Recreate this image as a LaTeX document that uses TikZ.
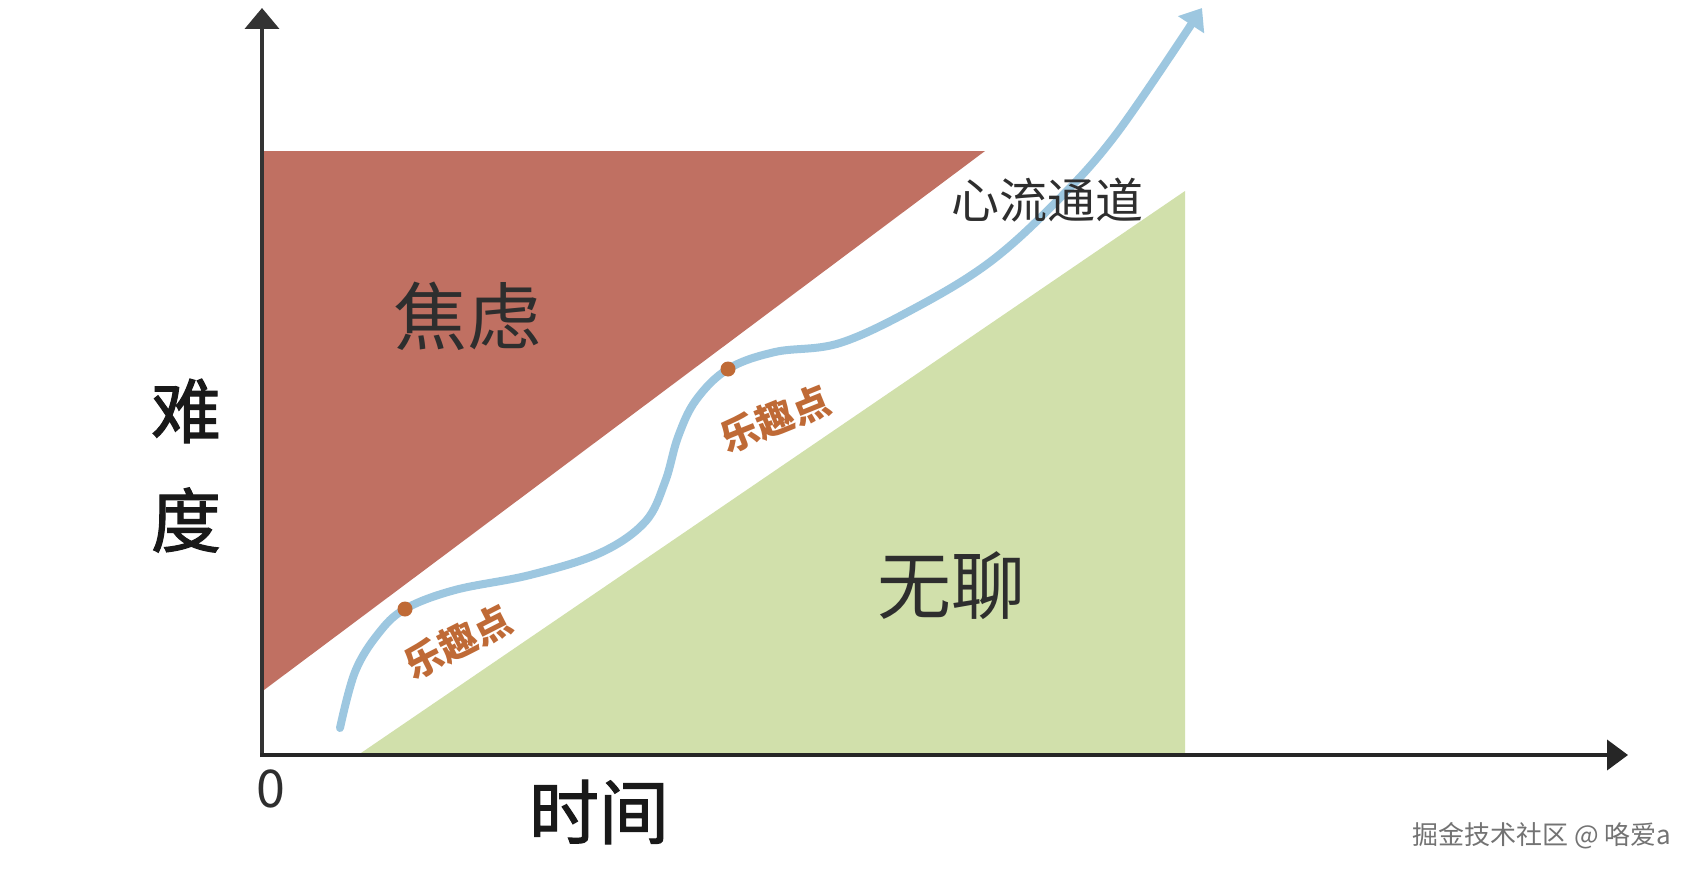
\documentclass[tikz,border=0pt]{standalone}
\usepackage{fontspec}
\newfontfamily\cjk{Noto Sans CJK SC}
\newfontfamily\cjkmid[FakeBold=1.6]{Noto Sans CJK SC}
\usetikzlibrary{arrows.meta}
\definecolor{anxred}{HTML}{C07062}
\definecolor{boregreen}{HTML}{D1E0AB}
\definecolor{flowblue}{HTML}{9DC7E0}
\definecolor{funorange}{HTML}{BF6A36}
\definecolor{txtgray}{HTML}{2E2E2E}
\tikzset{
  zonetext/.style={font=\cjk\fontsize{74}{80}\selectfont, text=txtgray, inner sep=0pt},
  axistext/.style={font=\cjkmid\fontsize{70}{76}\selectfont, text=black!90, inner sep=0pt},
  funtext/.style={font=\cjk\bfseries\fontsize{38}{42}\selectfont, text=funorange, inner sep=0pt},
  chantext/.style={font=\cjk\fontsize{48}{52}\selectfont, text=txtgray, inner sep=0pt},
  funpoint/.style={circle, fill=funorange, inner sep=0pt, minimum size=15pt},
  markfont/.style={font=\cjk\fontsize{26}{30}\selectfont, text=black!55, inner sep=0pt},
}
\begin{document}
\begin{tikzpicture}[x=1pt,y=-1pt]
\useasboundingbox (0,0) rectangle (1692,875);
\fill[white] (0,0) rectangle (1692,875);
% zones
\fill[anxred] (264,151) -- (985,151) -- (264,690) -- cycle;
\fill[boregreen] (361,753) -- (1185,191) -- (1185,753) -- cycle;
% axes
\coordinate (o) at (262,755);
\coordinate (ytop) at (262,8);
\coordinate (xend) at (1628,755);
\draw[black!80, line width=4pt, -{Triangle[length=21pt,width=34pt]}] (262,757) -- (ytop);
\draw[black!85, line width=4pt, -{Triangle[length=21pt,width=30pt]}] (260,755) -- (xend);
% flow curve
\coordinate (c0) at (340,728);
\coordinate (c1) at (405,609);
\coordinate (c2) at (728,369);
\coordinate (c3) at (1202,8);
\draw[flowblue, line width=8pt, line cap=round, -{Triangle[length=20pt,width=30pt]}]
  plot[smooth, tension=0.6] coordinates {(c0) (355,672) (378,634) (c1) (455,590) (530,575) (600,553) (645,522) (665,482) (678,437) (696,400) (c2) (775,352) (840,343) (917,307) (990,262) (1055,203) (1117,133) (c3)};
\node[funpoint] (p1) at (c1) {};
\node[funpoint] (p2) at (c2) {};
% labels
\node[zonetext] (anx) at (467,316) {焦虑};
\node[zonetext] (bore) at (951,586) {无聊};
\node[chantext] (chan) at (1047,200) {心流通道};
\node[funtext, rotate=27] (f1) at (458,642) {乐趣点};
\node[funtext, rotate=22] (f2) at (775,419) {乐趣点};
\node[axistext] (nan) at (186,411) {难};
\node[axistext] (du) at (186,520) {度};
\node[axistext] (time) at (599,812) {时间};
\node[font=\cjk\fontsize{52}{56}\selectfont, text=txtgray, inner sep=0pt] (zero) at (271,789) {0};
\node[markfont] (wm) at (1542,836) {掘金技术社区 @ 咯爱a};
\end{tikzpicture}
\end{document}
